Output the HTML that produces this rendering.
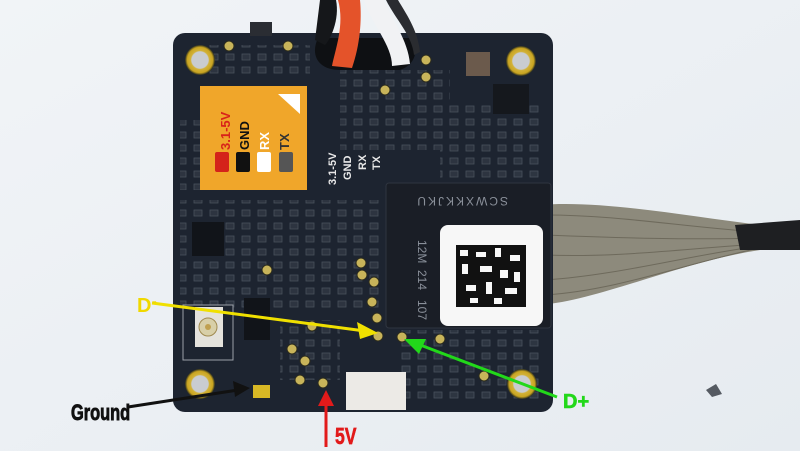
<!DOCTYPE html>
<html><head><style>html,body{margin:0;padding:0;background:#edf1f5;}svg{display:block}</style></head>
<body>
<svg width="800" height="451" viewBox="0 0 800 451" xmlns="http://www.w3.org/2000/svg" font-family="Liberation Sans, sans-serif">
<defs>
<linearGradient id="bg" x1="0" y1="0" x2="1" y2="1"><stop offset="0" stop-color="#f1f4f7"/><stop offset="1" stop-color="#e6ebf0"/></linearGradient>
<radialGradient id="hole"><stop offset="0.55" stop-color="#c9ccd0"/><stop offset="0.62" stop-color="#d2b23a"/><stop offset="0.85" stop-color="#c9a420"/><stop offset="1" stop-color="#2a2d20"/></radialGradient>
<pattern id="comp" width="16" height="13" patternUnits="userSpaceOnUse"><rect x="2" y="2" width="8" height="6" fill="#343c48" stroke="#5a626e" stroke-width="0.8"/></pattern>
</defs>
<rect width="800" height="451" fill="url(#bg)"/>
<path d="M540 205 C600 200 680 215 760 225 L800 222 L800 248 L760 250 C680 262 600 300 540 305 Z" fill="#8d8a7c"/>
<g stroke="#6e6a5c" stroke-width="1" fill="none">
<path d="M545 215 C620 215 690 228 760 232"/><path d="M545 235 C620 238 690 240 760 238"/><path d="M545 255 C620 258 690 248 760 244"/><path d="M545 280 C620 275 690 255 760 246"/><path d="M545 295 C620 290 690 262 760 248"/></g>
<path d="M735 225 L800 220 L800 250 L740 250 Z" fill="#1e1f22"/>
<rect x="173" y="33" width="380" height="379" rx="12" fill="#1d2430"/>
<rect x="250" y="22" width="22" height="14" fill="#2a2d33"/>
<g fill="url(#comp)" opacity="0.7">
<rect x="180" y="120" width="20" height="70"/><rect x="340" y="70" width="110" height="80"/><rect x="440" y="100" width="105" height="80"/><rect x="180" y="200" width="200" height="110"/><rect x="395" y="330" width="150" height="70"/><rect x="280" y="320" width="60" height="60"/><rect x="200" y="45" width="110" height="30"/></g>
<path d="M318 38 C310 55 318 70 340 70 L400 70 C415 65 420 50 410 38 Z" fill="#0e1013"/>
<path d="M338 0 C345 25 335 50 332 66 L352 68 C360 45 362 20 360 0Z" fill="#e4532a"/>
<path d="M364 0 C372 25 392 45 392 66 L410 64 C408 40 392 20 384 0Z" fill="#f1f2f4"/>
<path d="M320 0 L336 0 C340 20 330 40 325 45 L315 40 Z" fill="#15171a"/>
<path d="M386 0 C396 20 412 35 414 55 L420 52 C418 30 405 12 398 0Z" fill="#2a2c30"/>
<g fill="#c8b45a" stroke="#2a2a1e" stroke-width="1">
<circle cx="229" cy="46" r="5"/><circle cx="288" cy="46" r="5"/><circle cx="426" cy="60" r="5"/><circle cx="426" cy="77" r="5"/><circle cx="385" cy="90" r="5"/>
<circle cx="267" cy="270" r="5"/><circle cx="361" cy="263" r="5"/><circle cx="362" cy="275" r="5"/><circle cx="374" cy="282" r="5"/><circle cx="372" cy="302" r="5"/><circle cx="377" cy="318" r="5"/><circle cx="312" cy="326" r="5"/><circle cx="378" cy="336" r="5"/><circle cx="402" cy="337" r="5"/><circle cx="440" cy="339" r="5"/><circle cx="292" cy="349" r="5"/><circle cx="305" cy="361" r="5"/><circle cx="300" cy="380" r="5"/><circle cx="323" cy="383" r="5"/><circle cx="484" cy="376" r="5"/></g>
<rect x="192" y="222" width="32" height="34" fill="#111419"/>
<rect x="244" y="298" width="26" height="42" fill="#111419"/>
<rect x="493" y="84" width="36" height="30" fill="#15181d"/>
<rect x="466" y="52" width="24" height="24" fill="#6b5a4c"/>
<rect x="183" y="305" width="50" height="55" fill="#1d2430" stroke="#9aa0a8" stroke-width="1"/>
<rect x="195" y="307" width="28" height="40" fill="#e4e2dc"/><circle cx="208" cy="327" r="9" fill="#d8cfa8" stroke="#a08a50"/><circle cx="208" cy="327" r="3" fill="#c0a050"/>
<rect x="346" y="372" width="60" height="38" fill="#eceae6"/>
<circle cx="200" cy="60" r="15" fill="url(#hole)"/><circle cx="521" cy="61" r="15" fill="url(#hole)"/><circle cx="200" cy="384" r="15" fill="url(#hole)"/><circle cx="522" cy="384" r="15" fill="url(#hole)"/>
<rect x="253" y="385" width="17" height="13" fill="#d8b825"/>
<rect x="200" y="86" width="107" height="104" fill="#f0a62a"/>
<path d="M278 94 L300 94 L300 114 Z" fill="#fff"/>
<g font-weight="bold" font-size="13">
<text transform="translate(230,150) rotate(-90)" fill="#d8231a">3.1-5V</text>
<text transform="translate(249,150) rotate(-90)" fill="#111">GND</text>
<text transform="translate(269,150) rotate(-90)" fill="#fff">RX</text>
<text transform="translate(289,150) rotate(-90)" fill="#333">TX</text></g>
<rect x="215" y="152" width="14" height="20" rx="2" fill="#d4231a"/><rect x="236" y="152" width="14" height="20" rx="2" fill="#111"/><rect x="257" y="152" width="14" height="20" rx="2" fill="#fff"/><rect x="279" y="152" width="14" height="20" rx="2" fill="#555"/>
<g fill="#e8e8e8" font-size="11" font-weight="bold">
<text transform="translate(336,185) rotate(-90)">3.1-5V</text><text transform="translate(351,180) rotate(-90)">GND</text><text transform="translate(366,170) rotate(-90)">RX</text><text transform="translate(380,170) rotate(-90)">TX</text></g>
<rect x="386" y="183" width="165" height="145" rx="3" fill="#1a1e26" stroke="#2f3540"/>
<text transform="translate(508,197) rotate(180)" fill="#8a909a" font-size="12" letter-spacing="2">SCWXKKJKU</text>
<g fill="#8a909a" font-size="12"><text transform="translate(418,240) rotate(90)">12M</text><text transform="translate(418,270) rotate(90)">214</text><text transform="translate(418,300) rotate(90)">107</text></g>
<rect x="440" y="225" width="103" height="101" rx="8" fill="#f7f7f7"/>
<rect x="456" y="245" width="70" height="62" fill="#111"/>
<g fill="#f7f7f7"><rect x="460" y="250" width="8" height="6"/><rect x="476" y="252" width="10" height="5"/><rect x="495" y="248" width="6" height="9"/><rect x="510" y="255" width="10" height="6"/><rect x="462" y="264" width="6" height="10"/><rect x="480" y="266" width="12" height="6"/><rect x="500" y="270" width="8" height="8"/><rect x="466" y="285" width="10" height="6"/><rect x="486" y="282" width="6" height="12"/><rect x="505" y="288" width="12" height="6"/><rect x="470" y="298" width="8" height="5"/><rect x="494" y="298" width="8" height="6"/><rect x="514" y="272" width="6" height="10"/></g>
<g stroke-width="3" fill="none">
<line x1="152" y1="303" x2="365" y2="331" stroke="#f0e000"/>
<line x1="557" y1="397" x2="415" y2="343" stroke="#22d81a"/>
<line x1="128" y1="407" x2="238" y2="390" stroke="#111"/>
<line x1="326" y1="447" x2="326" y2="398" stroke="#e21a1a"/></g>
<path d="M378 333 L357 322 L360 339 Z" fill="#f0e000"/>
<path d="M404 339 L426 339 L419 354 Z" fill="#22d81a"/>
<path d="M250 388 L233 381 L235 397 Z" fill="#111"/>
<path d="M326 390 L318 406 L334 406 Z" fill="#e21a1a"/>
<g font-family="Liberation Sans Narrow, Liberation Sans, sans-serif" font-weight="bold">
<text x="137" y="312" font-size="20" fill="#f0d800">D</text><text x="152" y="306" font-size="14" fill="#f0d800">-</text>
<text x="563" y="408" font-size="20" fill="#22d81a" stroke="#22d81a" stroke-width="0.6">D+</text>
<text x="71" y="420" font-size="20" fill="#111" stroke="#111" stroke-width="0.8" transform="translate(71,420) scale(0.82,1.1) translate(-71,-420)">Ground</text>
<text x="335" y="444" font-size="22" fill="#e21a1a" stroke="#e21a1a" stroke-width="0.6" transform="translate(335,444) scale(0.8,1.05) translate(-335,-444)">5V</text></g>
<path d="M706 390 L716 384 L722 394 L712 397Z" fill="#555a62"/>
</svg>
</body></html>
